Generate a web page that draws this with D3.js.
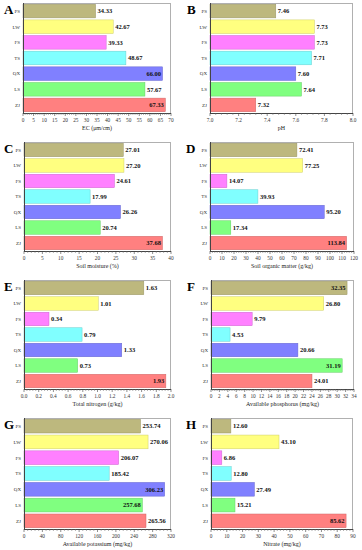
<!DOCTYPE html>
<html><head><meta charset="utf-8">
<script src="https://cdn.jsdelivr.net/npm/d3@7"></script>
<style>body{margin:0;background:#fff}svg{display:block}</style>
</head><body>
<svg id="c" width="362" height="550"></svg>
<script>
const categories = ["PS","LW","FS","TS","QX","LS","ZJ"];
const barColors = ["#bdb87e","#ffff80","#ff80ff","#80ffff","#8080ff","#80ff80","#ff8080"];

const ecValues = [34.33,42.67,39.33,48.67,66.00,57.67,67.33];
const phValues = [7.46,7.73,7.73,7.71,7.60,7.64,7.32];
const moistureValues = [27.01,27.20,24.61,17.99,26.26,20.74,37.68];
const somValues = [72.41,77.25,14.07,39.93,95.20,17.34,113.84];
const tnValues = [1.63,1.01,0.34,0.79,1.33,0.73,1.93];
const apValues = [32.35,26.80,9.79,4.53,20.66,31.19,24.01];
const akValues = [253.74,270.06,206.07,185.42,306.23,257.68,265.56];
const nitrateValues = [12.60,43.10,6.86,12.80,27.49,15.21,85.62];

const ecTicks = [0,5,10,15,20,25,30,35,40,45,50,55,60,65,70];
const phTicks = [7.0,7.2,7.4,7.6,7.8,8.0];
const moistureTicks = [0,5,10,15,20,25,30,35,40];
const somTicks = [0,10,20,30,40,50,60,70,80,90,100,110,120];
const tnTicks = [0.0,0.2,0.4,0.6,0.8,1.0,1.2,1.4,1.6,1.8,2.0];
const apTicks = [0,2,4,6,8,10,12,14,16,18,20,22,24,26,28,30,32,34];
const akTicks = [0,40,80,120,160,200,240,280,320];
const nitrateTicks = [0,10,20,30,40,50,60,70,80,90];

const ecInside = [0,0,0,0,1,0,1];
const phInside = [0,0,0,0,0,0,0];
const moistureInside = [0,0,0,0,0,0,1];
const somInside = [0,0,0,0,0,0,1];
const tnInside = [0,0,0,0,0,0,1];
const apInside = [1,0,0,0,0,1,0];
const akInside = [0,0,0,0,1,1,0];
const nitrateInside = [0,0,0,0,0,0,1];

const panelLetters = ["A","B","C","D","E","F","G","H"];
const axisTitles = ["EC (μm/cm)","pH","Soil moisture (%)","Soil organic matter (g/kg)",
  "Total nitrogen (g/kg)","Available phosphorus (mg/kg)","Available potassium (mg/kg)","Nitrate (mg/kg)"];

const panelData = [
  [ecValues, ecTicks, ecInside, "d"],
  [phValues, phTicks, phInside, ".1f"],
  [moistureValues, moistureTicks, moistureInside, "d"],
  [somValues, somTicks, somInside, "d"],
  [tnValues, tnTicks, tnInside, ".1f"],
  [apValues, apTicks, apInside, "d"],
  [akValues, akTicks, akInside, "d"],
  [nitrateValues, nitrateTicks, nitrateInside, "d"]
];
// layout
const layout = [
  {l:23, r:171, t:3, b:113, lx:4, ly:14},
  {l:210, r:353, t:3, b:113, lx:187, ly:14},
  {l:24, r:171, t:142, b:251, lx:4, ly:153},
  {l:210, r:354, t:142, b:251, lx:186, ly:153},
  {l:24, r:171, t:280, b:389, lx:4, ly:291},
  {l:211, r:354, t:280, b:389, lx:187, ly:291},
  {l:24, r:171, t:418, b:529, lx:4, ly:429},
  {l:211, r:353, t:418, b:529, lx:186, ly:429}
];

const svg = d3.select("#c");
const serif = "'Liberation Serif','Times New Roman',serif";

panelData.forEach((pd, i) => {
  const [vals, ticks, inside, tickFmt] = pd;
  const L = layout[i];
  const g = svg.append("g");
  const x = d3.scaleLinear().domain([ticks[0], ticks[ticks.length-1]]).range([L.l, L.r]);
  const y = d3.scaleBand().domain(categories).range([L.t, L.b]).paddingInner(0.13).paddingOuter(0.08);

  // frame top & right
  g.append("line").attr("x1",L.l).attr("x2",L.r).attr("y1",L.t+0.5).attr("y2",L.t+0.5).attr("stroke","#b0b0b0").attr("stroke-width",1);
  g.append("line").attr("x1",L.r-0.5).attr("x2",L.r-0.5).attr("y1",L.t).attr("y2",L.b).attr("stroke","#b0b0b0").attr("stroke-width",1);

  // bars
  g.selectAll("rect.bar").data(vals).join("rect")
    .attr("x", x(ticks[0]))
    .attr("y", (d,j)=>y(categories[j]))
    .attr("width", d=>x(d)-x(ticks[0]))
    .attr("height", y.bandwidth())
    .attr("fill", (d,j)=>barColors[j])
    .attr("stroke", (d,j)=>d3.color(barColors[j]).darker(0.6))
    .attr("stroke-width", 0.5);

  // value labels
  const fmt = d3.format(".2f");
  g.selectAll("text.val").data(vals).join("text")
    .attr("x", (d,j)=> inside[j] ? x(d)-1.5 : x(d)+2)
    .attr("y", (d,j)=>y(categories[j]) + y.bandwidth()/2 + 2.3)
    .attr("text-anchor", (d,j)=> inside[j] ? "end" : "start")
    .attr("font-family", serif).attr("font-weight","bold").attr("font-size", 6.5)
    .attr("fill","#111")
    .text(d=>fmt(d));

  // x axis
  const step = ticks[1]-ticks[0];
  const minor = [];
  for (let k=0;k<ticks.length-1;k++){ for(let m=1;m<5;m++){ minor.push(ticks[k]+step*m/5); } }
  const ax = g.append("g").attr("transform",`translate(0,${L.b})`);
  ax.append("line").attr("x1",L.l).attr("x2",L.r).attr("y1",0.5).attr("y2",0.5).attr("stroke","#444").attr("stroke-width",1);
  ax.selectAll("line.mj").data(ticks).join("line").attr("x1",d=>x(d)).attr("x2",d=>x(d)).attr("y1",0).attr("y2",3).attr("stroke","#444").attr("stroke-width",0.6);
  ax.selectAll("line.mn").data(minor).join("line").attr("x1",d=>x(d)).attr("x2",d=>x(d)).attr("y1",0).attr("y2",2).attr("stroke","#666").attr("stroke-width",0.5);
  const tfmt = d3.format(tickFmt);
  ax.selectAll("text.tk").data(ticks).join("text")
    .attr("x", d=>x(d)).attr("y", 8.5).attr("text-anchor","middle")
    .attr("font-family", serif).attr("font-size", 5.3).attr("fill","#333")
    .text(d=>tfmt(d));
  ax.append("text").attr("x",(L.l+L.r)/2).attr("y",17).attr("text-anchor","middle")
    .attr("font-family", serif).attr("font-size", 6).attr("fill","#222")
    .text(axisTitles[i]);

  // y axis
  g.append("line").attr("x1",L.l+0.5).attr("x2",L.l+0.5).attr("y1",L.t).attr("y2",L.b+1).attr("stroke","#444").attr("stroke-width",1);
  g.selectAll("text.cat").data(categories).join("text")
    .attr("x", L.l-3).attr("y", d=>y(d)+y.bandwidth()/2+1.8).attr("text-anchor","end")
    .attr("font-family", serif).attr("font-size", 5).attr("fill","#333")
    .text(d=>d);

  // panel letter
  g.append("text").attr("x",L.lx).attr("y",L.ly)
    .attr("font-family", serif).attr("font-weight","bold").attr("font-size", 13).attr("fill","#000")
    .text(panelLetters[i]);
});
</script>
</body></html>
